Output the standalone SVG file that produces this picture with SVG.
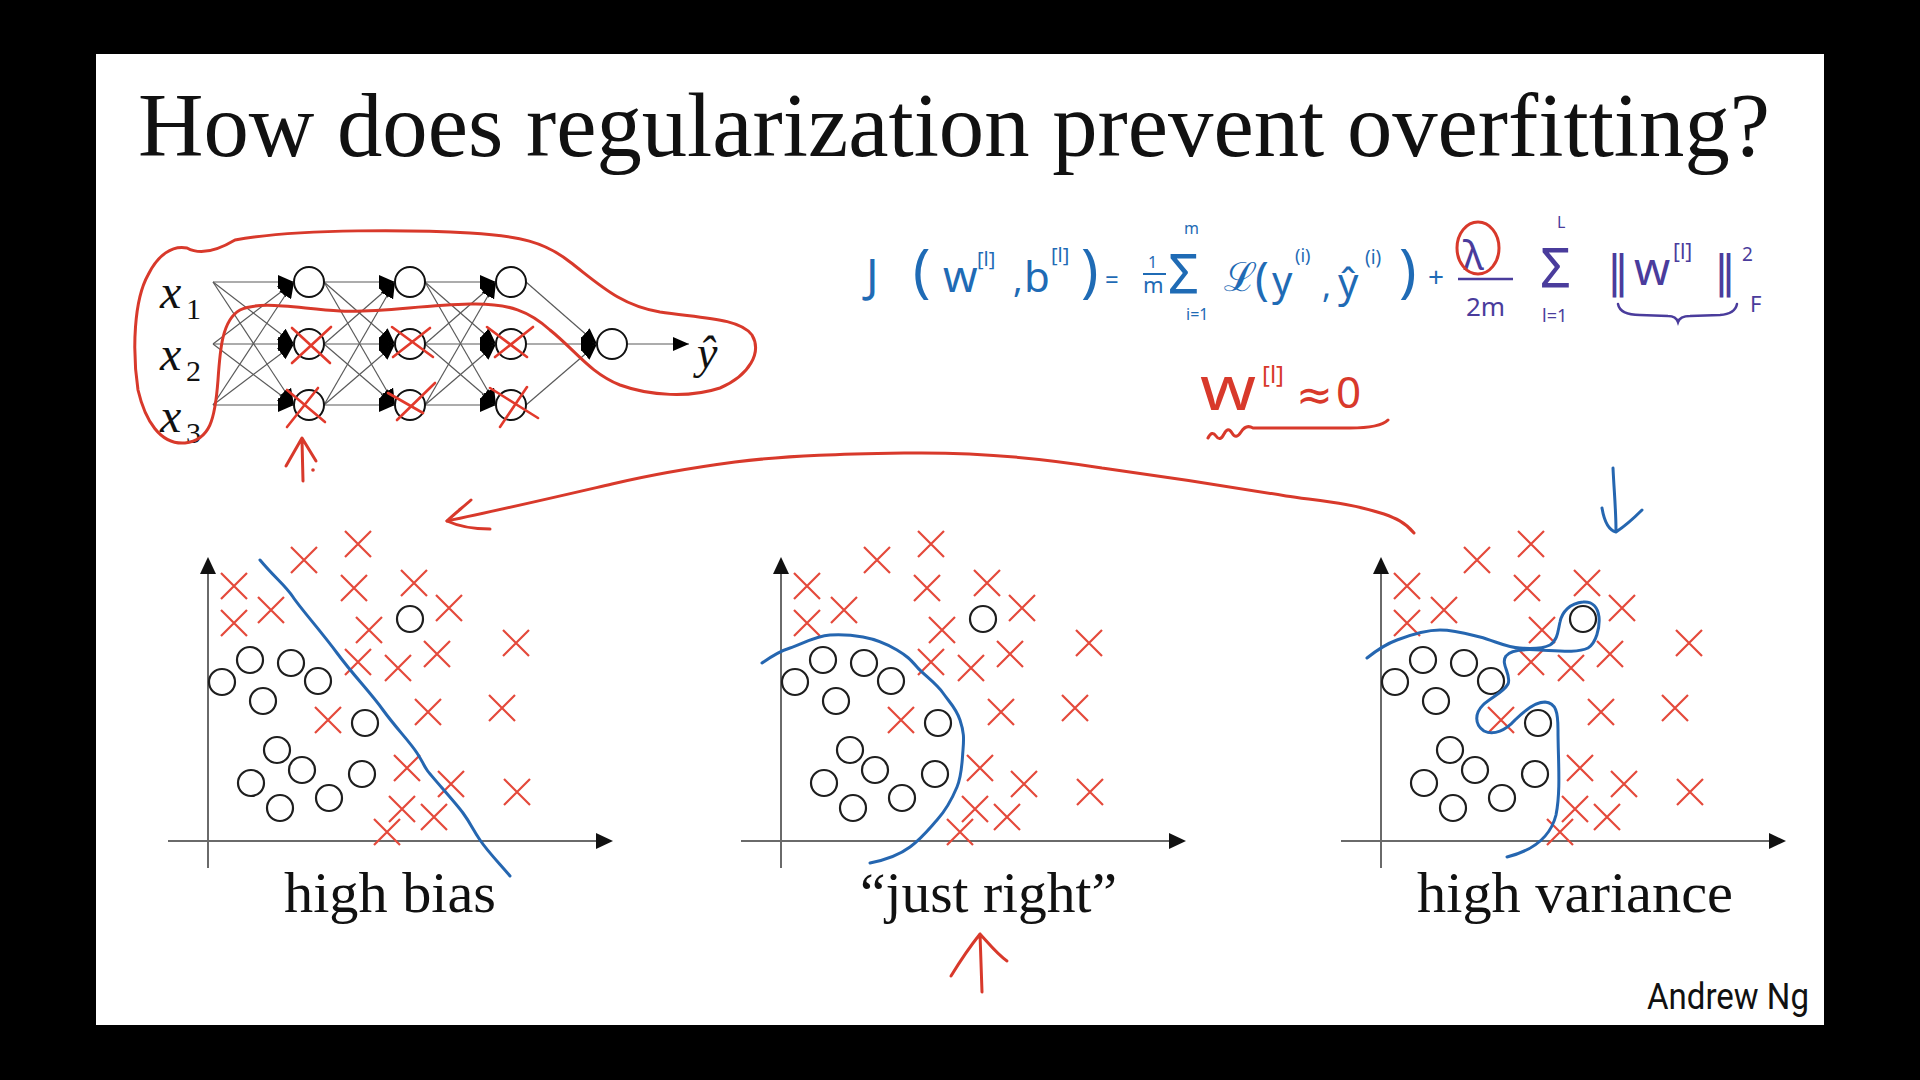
<svg xmlns="http://www.w3.org/2000/svg" xmlns:xlink="http://www.w3.org/1999/xlink" width="1920" height="1080" viewBox="0 0 1920 1080">
<style>
.ttl{font-family:"Liberation Serif","Times New Roman",serif;fill:#111}
.lbl{font-family:"Liberation Serif","Times New Roman",serif;fill:#111;font-size:57px}
.ax{stroke:#6a6a6a;stroke-width:2;fill:none}
.axh{fill:#111}
.cr{stroke:#e4493b;stroke-width:2.2;fill:none}
.ci{stroke:#1e1e1e;stroke-width:2.2;fill:none}
.bl{stroke:#2566b0;stroke-width:3;fill:none;stroke-linecap:round;stroke-linejoin:round}
.rd{stroke:#d8392b;stroke-width:3;fill:none;stroke-linecap:round;stroke-linejoin:round}
.edge{stroke:#5a5a5a;stroke-width:1.2;marker-end:url(#ah)}
.node{fill:#fff;stroke:#111;stroke-width:2}
.nx{stroke:#e23a2c;stroke-width:2.6;fill:none;stroke-linecap:round}
.fb{font-family:"Noto Sans","DejaVu Sans",sans-serif;fill:#1f6bb5}
.fp{font-family:"Noto Sans","DejaVu Sans",sans-serif;fill:#4a3c9c}
.fn{font-family:"DejaVu Sans","Noto Sans",sans-serif;fill:#4a3c9c}
.fr{font-family:"Noto Sans","DejaVu Sans",sans-serif;fill:#d8392b}
.mi{font-family:"Liberation Serif","Times New Roman",serif;font-style:italic;fill:#111}
.sub{font-family:"Liberation Serif","Times New Roman",serif;font-style:normal;fill:#111;font-size:30px}
</style>
<defs>
<marker id="ah" viewBox="0 0 16 14" markerWidth="16" markerHeight="14" refX="16" refY="7" markerUnits="userSpaceOnUse" orient="auto">
<path d="M0,0 L16,7 L0,14 z" fill="#000"/>
</marker>
<path id="xm" d="M-13,-13 L13,13 M-13,13 L13,-13"/>
<g id="plotbase">
<line class="ax" x1="208" y1="868" x2="208" y2="570"/>
<polygon class="axh" points="208,557 200,574 216,574"/>
<line class="ax" x1="168" y1="841" x2="598" y2="841"/>
<polygon class="axh" points="613,841 596,833 596,849"/>
<g class="cr">
<use href="#xm" x="358" y="544"/><use href="#xm" x="304" y="560"/><use href="#xm" x="234" y="586"/>
<use href="#xm" x="354" y="588"/><use href="#xm" x="414" y="583"/><use href="#xm" x="234" y="623"/>
<use href="#xm" x="271" y="610"/><use href="#xm" x="449" y="608"/><use href="#xm" x="369" y="630"/>
<use href="#xm" x="516" y="643"/><use href="#xm" x="358" y="662"/><use href="#xm" x="398" y="668"/>
<use href="#xm" x="437" y="654"/><use href="#xm" x="328" y="720"/><use href="#xm" x="428" y="712"/>
<use href="#xm" x="502" y="708"/><use href="#xm" x="407" y="768"/><use href="#xm" x="451" y="784"/>
<use href="#xm" x="517" y="792"/><use href="#xm" x="402" y="809"/><use href="#xm" x="434" y="817"/>
<use href="#xm" x="387" y="832"/>
</g>
<g class="ci">
<circle cx="250" cy="660" r="13"/><circle cx="291" cy="663" r="13"/><circle cx="222" cy="682" r="13"/>
<circle cx="318" cy="681" r="13"/><circle cx="263" cy="701" r="13"/><circle cx="410" cy="619" r="13"/>
<circle cx="365" cy="723" r="13"/><circle cx="277" cy="750" r="13"/><circle cx="302" cy="770" r="13"/>
<circle cx="251" cy="783" r="13"/><circle cx="362" cy="774" r="13"/><circle cx="329" cy="798" r="13"/>
<circle cx="280" cy="808" r="13"/>
</g>
</g>
</defs>

<rect x="0" y="0" width="1920" height="1080" fill="#000"/>
<rect x="96" y="54" width="1728" height="971" fill="#fff"/>

<g id="title">
<text class="ttl" x="138" y="156" font-size="90" textLength="1632" lengthAdjust="spacingAndGlyphs">How does regularization prevent overfitting?</text>
</g>

<g id="network">
<g id="connectors">
<line class="edge" x1="213" y1="282" x2="294" y2="282"/><line class="edge" x1="213" y1="282" x2="294" y2="344"/><line class="edge" x1="213" y1="282" x2="294" y2="405"/>
<line class="edge" x1="213" y1="344" x2="294" y2="282"/><line class="edge" x1="213" y1="344" x2="294" y2="344"/><line class="edge" x1="213" y1="344" x2="294" y2="405"/>
<line class="edge" x1="213" y1="405" x2="294" y2="282"/><line class="edge" x1="213" y1="405" x2="294" y2="344"/><line class="edge" x1="213" y1="405" x2="294" y2="405"/>
<line class="edge" x1="324" y1="282" x2="395" y2="282"/><line class="edge" x1="324" y1="282" x2="395" y2="344"/><line class="edge" x1="324" y1="282" x2="395" y2="405"/>
<line class="edge" x1="324" y1="344" x2="395" y2="282"/><line class="edge" x1="324" y1="344" x2="395" y2="344"/><line class="edge" x1="324" y1="344" x2="395" y2="405"/>
<line class="edge" x1="324" y1="405" x2="395" y2="282"/><line class="edge" x1="324" y1="405" x2="395" y2="344"/><line class="edge" x1="324" y1="405" x2="395" y2="405"/>
<line class="edge" x1="425" y1="282" x2="496" y2="282"/><line class="edge" x1="425" y1="282" x2="496" y2="344"/><line class="edge" x1="425" y1="282" x2="496" y2="405"/>
<line class="edge" x1="425" y1="344" x2="496" y2="282"/><line class="edge" x1="425" y1="344" x2="496" y2="344"/><line class="edge" x1="425" y1="344" x2="496" y2="405"/>
<line class="edge" x1="425" y1="405" x2="496" y2="282"/><line class="edge" x1="425" y1="405" x2="496" y2="344"/><line class="edge" x1="425" y1="405" x2="496" y2="405"/>
<line class="edge" x1="526" y1="282" x2="597" y2="344"/><line class="edge" x1="526" y1="344" x2="597" y2="344"/><line class="edge" x1="526" y1="405" x2="597" y2="344"/>
<line class="edge" x1="627" y1="344" x2="689" y2="344"/>
</g>
<g id="x1"><text class="mi" x="160" y="308" font-size="48">x</text><text class="sub" x="186" y="319">1</text></g>
<g id="x2"><text class="mi" x="160" y="370" font-size="48">x</text><text class="sub" x="186" y="381">2</text></g>
<g id="x3"><text class="mi" x="160" y="432" font-size="48">x</text><text class="sub" x="186" y="443">3</text></g>
<g id="l1n1"><circle class="node" cx="309" cy="282" r="15"/></g>
<g id="l1n2"><circle class="node" cx="309" cy="344" r="15"/></g>
<g id="l1n3"><circle class="node" cx="309" cy="405" r="15"/></g>
<g id="l2n1"><circle class="node" cx="410" cy="282" r="15"/></g>
<g id="l2n2"><circle class="node" cx="410" cy="344" r="15"/></g>
<g id="l2n3"><circle class="node" cx="410" cy="405" r="15"/></g>
<g id="l3n1"><circle class="node" cx="511" cy="282" r="15"/></g>
<g id="l3n2"><circle class="node" cx="511" cy="344" r="15"/></g>
<g id="l3n3"><circle class="node" cx="511" cy="405" r="15"/></g>
<g id="out"><circle class="node" cx="612" cy="344" r="15"/></g>
<g id="yhat"><text class="mi" x="697" y="368" font-size="46">ŷ</text></g>
<g id="dropout-marks">
<path class="nx" d="M292,328 L330,363 M292,363 L331,327"/>
<path class="nx" d="M287,390 L325,422 M287,427 L318,388"/>
<path class="nx" d="M392,327 L433,357 M393,357 L430,328"/>
<path class="nx" d="M388,393 L423,413 M397,420 L435,383"/>
<path class="nx" d="M487,327 L527,357 M495,357 L533,327"/>
<path class="nx" d="M490,388 L538,418 M500,427 L527,387"/>
</g>
<path class="rd" d="M187,248 Q205,258 235,240 C300,228 420,230 470,233 C520,236 545,242 570,262 C600,285 620,305 660,312 C700,318 740,318 752,335 C762,352 750,375 720,388 C690,398 650,396 620,385 C590,373 575,350 550,330 C530,312 510,303 470,304 C420,305 380,313 340,311 C300,309 260,300 240,310 C222,320 220,350 218,380 C215,420 210,440 185,443 C160,445 145,420 138,390 C132,350 134,300 148,275 C158,255 172,245 187,248 Z"/>
<path class="rd" d="M303,481 L302,440 M286,466 L302,438 L316,461"/>
<circle cx="313" cy="470" r="1.8" fill="#d8392b"/>
</g>

<g id="formula">
<text class="fb" x="866" y="292" font-size="46">J</text>
<text class="fb" x="913" y="291" font-size="58">(</text>
<text class="fb" x="943" y="292" font-size="44">w</text>
<text class="fb" x="977" y="266" font-size="20">[l]</text>
<text class="fb" x="1013" y="292" font-size="36">,</text>
<text class="fb" x="1024" y="292" font-size="42">b</text>
<text class="fb" x="1051" y="262" font-size="20">[l]</text>
<text class="fb" x="1081" y="291" font-size="58">)</text>
<text class="fb" x="1105" y="288" font-size="24">=</text>
<text class="fb" x="1148" y="268" font-size="16">1</text>
<line x1="1143" y1="274" x2="1166" y2="274" stroke="#1f6bb5" stroke-width="2"/>
<text class="fb" x="1143" y="293" font-size="22">m</text>
<text class="fb" x="1168" y="293" font-size="54">Σ</text>
<text class="fb" x="1184" y="234" font-size="16">m</text>
<text class="fb" x="1186" y="320" font-size="16">i=1</text>
<text class="fb" x="1224" y="291" font-size="40">ℒ</text>
<text class="fb" x="1255" y="295" font-size="46">(</text>
<text class="fb" x="1272" y="295" font-size="40">y</text>
<text class="fb" x="1295" y="262" font-size="18">(i)</text>
<text class="fb" x="1322" y="298" font-size="34">,</text>
<text class="fb" x="1338" y="297" font-size="40">ŷ</text>
<text class="fb" x="1365" y="264" font-size="19">(i)</text>
<text class="fb" x="1399" y="291" font-size="58">)</text>
<text class="fb" x="1428" y="287" font-size="28">+</text>
<text class="fp" x="1463" y="270" font-size="40">λ</text>
<line x1="1458" y1="279" x2="1513" y2="279" stroke="#4a3c9c" stroke-width="2.5"/>
<text class="fp" x="1466" y="316" font-size="26">2m</text>
<text class="fp" x="1540" y="287" font-size="54">Σ</text>
<text class="fp" x="1557" y="228" font-size="16">L</text>
<text class="fp" x="1542" y="322" font-size="18">l=1</text>
<text class="fn" x="1607" y="287" font-size="44">‖</text>
<text class="fp" x="1634" y="285" font-size="46">w</text>
<text class="fp" x="1673" y="259" font-size="21">[l]</text>
<text class="fn" x="1714" y="287" font-size="44">‖</text>
<text class="fp" x="1742" y="261" font-size="19">2</text>
<text class="fp" x="1750" y="312" font-size="22">F</text>
<path d="M1618,304 Q1620,315 1640,315 L1668,316 Q1676,316 1678,322 Q1680,316 1690,316 L1720,315 Q1735,314 1737,304" fill="none" stroke="#4a3c9c" stroke-width="2.5" stroke-linecap="round"/>
<ellipse cx="1478" cy="248" rx="21" ry="26" class="rd"/>
</g>

<g id="w-approx">
<text class="fr" x="1200" y="410" font-size="62" textLength="56" lengthAdjust="spacingAndGlyphs">w</text>
<text class="fr" x="1262" y="383" font-size="24">[l]</text>
<text class="fr" x="1296" y="410" font-size="44">≈</text>
<text class="fr" x="1336" y="408" font-size="44">0</text>
<path class="rd" d="M1208,438 q4,-8 8,-2 q4,6 8,-2 q4,-8 8,-1 q4,7 9,-1 q5,-8 12,-4 L1350,428 Q1380,428 1388,420"/>
</g>

<g id="plot-high-bias">
<use href="#plotbase"/>
<path class="bl" d="M260,560 C275,578 285,585 293,597 S320,630 337,653 S370,692 383,710 S410,742 417,753 S423,764 427,770 S455,802 463,813 S472,828 480,840 S500,864 510,876"/>
<text class="lbl" x="284" y="912" textLength="212" lengthAdjust="spacingAndGlyphs">high bias</text>
</g>

<g id="plot-just-right">
<use href="#plotbase" x="573"/>
<path class="bl" d="M762,663 C772,656 780,651 790,648 S815,636 830,635 S852,635 863,637 S887,644 897,650 S910,659 917,667 S936,683 943,693 S956,708 960,720 S964,738 963,750 S962,775 957,787 S946,810 937,820 S922,838 910,847 S885,860 870,863"/>
<text class="lbl" x="860" y="912" textLength="257" lengthAdjust="spacingAndGlyphs">“just right”</text>
</g>

<g id="plot-high-variance">
<use href="#plotbase" x="1173"/>
<path class="bl" d="M1367,658 C1377,650 1386,644 1397,640 C1410,635 1425,630 1440,630 C1455,630 1468,634 1480,637 C1495,641 1508,648 1520,648 C1533,649 1542,649 1550,645 C1558,640 1558,630 1560,622 C1562,612 1570,603 1583,602 C1593,601 1598,608 1599,617 C1600,628 1596,643 1588,648 C1578,653 1560,651 1540,650 C1525,649 1510,650 1506,656 C1500,664 1512,675 1508,684 C1504,692 1490,698 1483,705 C1475,713 1474,724 1484,731 C1494,736 1506,730 1515,720 C1525,710 1535,702 1545,702 C1556,703 1558,712 1558,730 C1558,760 1561,790 1556,815 C1551,835 1535,850 1507,857"/>
<text class="lbl" x="1417" y="912" textLength="316" lengthAdjust="spacingAndGlyphs">high variance</text>
</g>

<g id="annotations">
<path class="rd" d="M1414,533 C1405,522 1395,518 1384,514 C1350,503 1320,501 1286,496 C1220,485 1160,476 1102,468 C1040,458 970,452 906,453 C850,454 790,455 735,462 C690,468 650,475 612,484 C560,496 500,510 447,521"/>
<path class="rd" d="M471,500 C462,508 453,515 447,521 C460,527 475,529 490,529"/>
<path class="bl" d="M1613,468 C1614,490 1616,510 1616,531 M1602,508 C1604,520 1608,530 1616,532 C1625,526 1634,518 1642,510"/>
<path class="rd" d="M982,992 L980,934 M951,976 C962,958 972,944 980,934 C990,945 998,955 1007,961"/>
</g>

<g id="footer">
<text x="1647" y="1009" font-family="Roboto,'Open Sans',sans-serif" font-size="37" fill="#111" textLength="162" lengthAdjust="spacingAndGlyphs">Andrew Ng</text>
</g>
</svg>
